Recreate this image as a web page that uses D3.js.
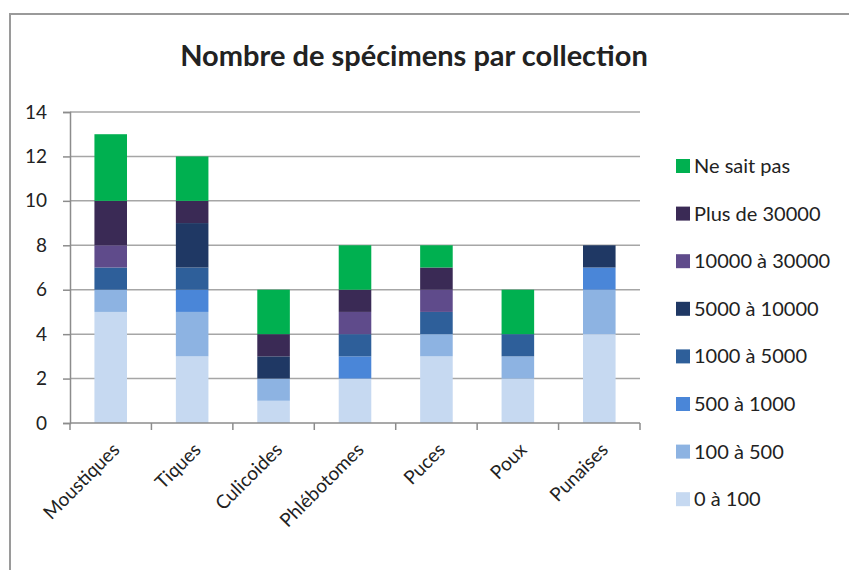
<!DOCTYPE html>
<html>
<head>
<meta charset="utf-8">
<script src="https://cdn.jsdelivr.net/npm/d3@7"></script>
<style>
  body { margin: 0; background: #fff; }
  text { font-family: Lato, "Open Sans", sans-serif; fill: #222; }
</style>
</head>
<body>
<script>
// categories and series (bottom to top of each stack)
var categories = ["Moustiques", "Tiques", "Culicoides", "Phlébotomes", "Puces", "Poux", "Punaises"];
var seriesNames = ["0 à 100", "100 à 500", "500 à 1000", "1000 à 5000", "5000 à 10000", "10000 à 30000", "Plus de 30000", "Ne sait pas"];
var s0_100      = [5, 3, 1, 2, 3, 2, 4];
var s100_500    = [1, 2, 1, 0, 1, 1, 2];
var s500_1000   = [0, 1, 0, 1, 0, 0, 1];
var s1000_5000  = [1, 1, 0, 1, 1, 1, 0];
var s5000_10000 = [0, 2, 1, 0, 0, 0, 1];
var s10000_30000= [1, 0, 0, 1, 1, 0, 0];
var sPlus30000  = [2, 1, 1, 1, 1, 0, 0];
var sNeSaitPas  = [3, 2, 2, 2, 1, 2, 0];
var yTicks = [0, 2, 4, 6, 8, 10, 12, 14];
var colors = ["#c6d9f1", "#8db3e2", "#4a86d8", "#2e5f9a", "#1f3864", "#5f4b8b", "#3a2a55", "#00b050"];

var seriesValues = [s0_100, s100_500, s500_1000, s1000_5000, s5000_10000, s10000_30000, sPlus30000, sNeSaitPas];

var rows = categories.map(function(c, i) {
  var r = {cat: c};
  seriesNames.forEach(function(s, j) { r[s] = seriesValues[j][i]; });
  return r;
});

var W = 849, H = 570;
var svg = d3.select("body").append("svg")
    .attr("width", W)
    .attr("height", H);

// chart frame
svg.append("rect")
    .attr("x", 10).attr("y", 14)
    .attr("width", 860).attr("height", 600)
    .attr("fill", "#fff")
    .attr("stroke", "#9a9a9a")
    .attr("stroke-width", 2);

var plot = {left: 70, right: 640, top: 112, bottom: 423};

var x = d3.scaleBand()
    .domain(categories)
    .range([plot.left, plot.right])
    .paddingInner(0.6)
    .paddingOuter(0.3);

var y = d3.scaleLinear()
    .domain([0, 14])
    .range([plot.bottom, plot.top]);

// gridlines
svg.append("g")
  .selectAll("line")
  .data(yTicks.slice(1))
  .enter().append("line")
    .attr("x1", plot.left).attr("x2", plot.right)
    .attr("y1", function(d) { return y(d); })
    .attr("y2", function(d) { return y(d); })
    .attr("stroke", "#a6a6a6")
    .attr("stroke-width", 1.5);

var stack = d3.stack().keys(seriesNames);
var layers = stack(rows);

svg.append("g")
  .selectAll("g")
  .data(layers)
  .enter().append("g")
    .attr("fill", function(d, i) { return colors[i]; })
  .selectAll("rect")
  .data(function(d) { return d; })
  .enter().append("rect")
    .attr("x", function(d) { return x(d.data.cat); })
    .attr("width", x.bandwidth())
    .attr("y", function(d) { return y(d[1]); })
    .attr("height", function(d) { return y(d[0]) - y(d[1]); });

// y axis
var yAxis = svg.append("g")
    .attr("transform", "translate(" + plot.left + ",0)")
    .call(d3.axisLeft(y).tickValues(yTicks).tickSize(7).tickPadding(16));
yAxis.select(".domain").attr("stroke", "#8c8c8c").attr("stroke-width", 1.5);
yAxis.selectAll(".tick line").attr("stroke", "#8c8c8c").attr("stroke-width", 1.5);
yAxis.selectAll("text")
    .style("font-family", "Lato, sans-serif")
    .style("font-size", "19px")
    .attr("fill", "#222");

// x axis with ticks between categories
var xAxis = svg.append("g")
    .attr("transform", "translate(0," + plot.bottom + ")");
xAxis.append("line")
    .attr("x1", plot.left).attr("x2", plot.right)
    .attr("stroke", "#8c8c8c").attr("stroke-width", 1.5);
xAxis.selectAll(".sep")
  .data(categories.concat(["end"]))
  .enter().append("line")
    .attr("class", "sep")
    .attr("x1", function(d, i) { return plot.left + i * (plot.right - plot.left) / categories.length; })
    .attr("x2", function(d, i) { return plot.left + i * (plot.right - plot.left) / categories.length; })
    .attr("y1", 0).attr("y2", 7)
    .attr("stroke", "#8c8c8c").attr("stroke-width", 1.5);
xAxis.selectAll(".lbl")
  .data(categories)
  .enter().append("text")
    .attr("class", "lbl")
    .attr("text-anchor", "end")
    .attr("transform", function(d) {
      return "translate(" + (x(d) + x.bandwidth() / 2 + 10) + ",28) rotate(-45)";
    })
    .style("font-size", "19px")
    .text(function(d) { return d; });

// title
svg.append("text")
    .attr("x", 414).attr("y", 66)
    .attr("text-anchor", "middle")
    .style("font-size", "29px")
    .style("font-weight", "bold")
    .text("Nombre de spécimens par collection");

// legend, top entry is the top of the stack
var legendItems = seriesNames.slice().reverse();
var legendColors = colors.slice().reverse();
var lg = svg.append("g").selectAll("g")
  .data(legendItems)
  .enter().append("g")
    .attr("transform", function(d, i) { return "translate(676," + (166 + i * 47.6) + ")"; });
lg.append("rect")
    .attr("x", 0).attr("y", -7)
    .attr("width", 14).attr("height", 14)
    .attr("fill", function(d, i) { return legendColors[i]; });
lg.append("text")
    .attr("x", 18).attr("y", 7)
    .style("font-size", "20px")
    .text(function(d) { return d; });
</script>
</body>
</html>
